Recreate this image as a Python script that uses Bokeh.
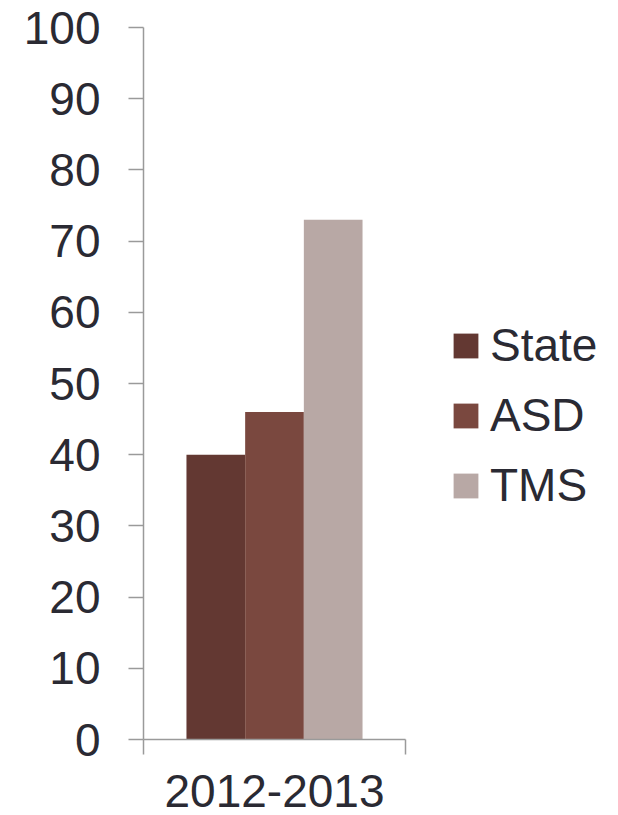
from bokeh.plotting import figure
from bokeh.models import (Range1d, FactorRange, LinearAxis, FixedTicker,
                          Legend, LegendItem, ColumnDataSource)
from bokeh.transform import dodge
from bokeh.embed import file_html
from bokeh.resources import INLINE

categories = ["2012-2013"]
series = ["State", "ASD", "TMS"]
state_values = [40]
asd_values = [46]
tms_values = [73]
y_ticks = [0, 10, 20, 30, 40, 50, 60, 70, 80, 90, 100]
colors = ["#633832", "#7a483f", "#b8a8a5"]

FONT = "Liberation Sans"
TXT = "#2a2a33"
GRID = "#9a9a9a"
FS = "46px"

xr = FactorRange(factors=categories, range_padding=0)
p = figure(frame_width=262, frame_height=712, x_range=xr, y_range=Range1d(0, 100),
           output_backend="svg", toolbar_location=None, x_axis_type=None, y_axis_type=None,
           min_border_left=143, min_border_right=205, min_border_top=27, min_border_bottom=76)
p.outline_line_color = None
p.background_fill_color = "white"
p.border_fill_color = "white"

yaxis = LinearAxis(ticker=FixedTicker(ticks=y_ticks, minor_ticks=[]))
yaxis.axis_line_color = GRID
yaxis.axis_line_width = 1.5
yaxis.major_tick_line_color = GRID
yaxis.major_tick_line_width = 1.5
yaxis.major_tick_out = 15
yaxis.major_tick_in = 0
yaxis.minor_tick_line_color = None
yaxis.major_label_standoff = 28
yaxis.major_label_text_font = FONT
yaxis.major_label_text_font_size = FS
yaxis.major_label_text_color = TXT
p.add_layout(yaxis, "left")

# category label centred in the band, boundary ticks at the band edges
xaxis = LinearAxis(ticker=FixedTicker(ticks=[0.5], minor_ticks=[0, 1]),
                   major_label_overrides={0.5: categories[0]})
xaxis.axis_line_color = GRID
xaxis.axis_line_width = 1.5
xaxis.major_tick_line_color = None
xaxis.major_tick_out = 0
xaxis.major_tick_in = 0
xaxis.minor_tick_line_color = GRID
xaxis.minor_tick_line_width = 1.5
xaxis.minor_tick_out = 15
xaxis.minor_tick_in = 0
xaxis.major_label_standoff = 20
xaxis.major_label_text_font = FONT
xaxis.major_label_text_font_size = FS
xaxis.major_label_text_color = TXT
p.add_layout(xaxis, "below")

p.ygrid.ticker = FixedTicker(ticks=y_ticks)
p.ygrid.grid_line_color = GRID
p.ygrid.grid_line_width = 1.5
p.xgrid.grid_line_color = None

src = ColumnDataSource(dict(x=categories, State=state_values, ASD=asd_values, TMS=tms_values))
bw = 0.224
renderers = []
for i, (name, col) in enumerate(zip(series, colors)):
    r = p.vbar(x=dodge("x", (i - 1) * bw, range=xr), top=name, width=bw, source=src,
               fill_color=col, line_color=None)
    renderers.append(r)

legend = Legend(items=[LegendItem(label=n, renderers=[r]) for n, r in zip(series, renderers)],
                location=(45, 219))
legend.border_line_color = None
legend.background_fill_alpha = 0
legend.glyph_width = 31
legend.glyph_height = 31
legend.label_height = 70
legend.spacing = 0
legend.padding = 0
legend.margin = 0
legend.label_standoff = 9
legend.label_text_font = FONT
legend.label_text_font_size = FS
legend.label_text_color = TXT
legend.label_text_baseline = "middle"
p.add_layout(legend, "right")

open("out.html", "w").write(file_html(p, INLINE))
